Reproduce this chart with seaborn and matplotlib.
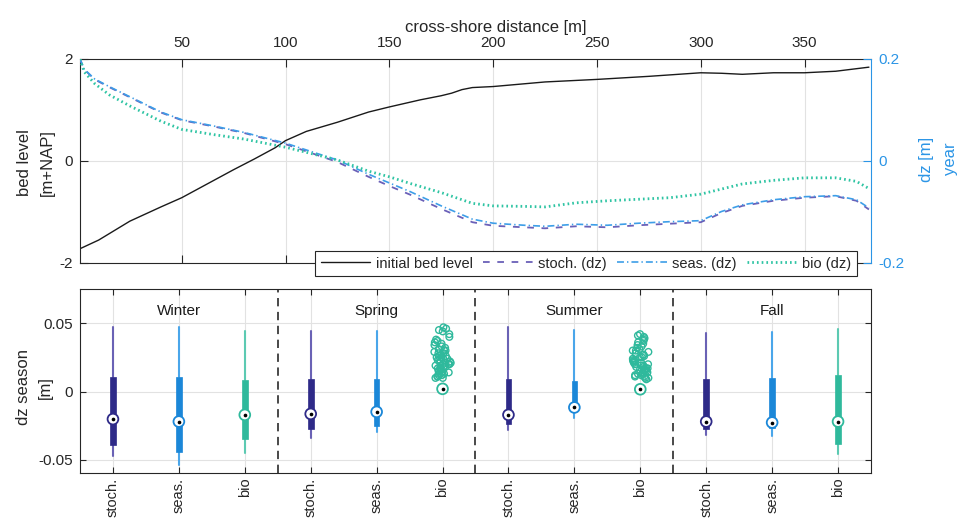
import numpy as np
import matplotlib
matplotlib.use("Agg")
import matplotlib.pyplot as plt
import seaborn as sns

# ---------------- top panel data ----------------
bed_x = [1, 10, 25, 40, 50, 60, 75, 85, 95, 100, 110, 125, 140, 150, 165, 175, 180,
         185, 190, 200, 225, 250, 275, 300, 310, 320, 335, 350, 365, 381]
bed_level = [-1.72, -1.55, -1.18, -0.90, -0.72, -0.50, -0.17, 0.04, 0.26, 0.40, 0.58,
             0.76, 0.96, 1.06, 1.20, 1.28, 1.33, 1.40, 1.44, 1.46, 1.55, 1.60, 1.66,
             1.73, 1.72, 1.70, 1.73, 1.73, 1.76, 1.84]

dz_x = [1, 3, 8, 15, 25, 40, 50, 65, 80, 100, 115, 125, 140, 150, 160, 175, 190, 200,
        215, 225, 240, 255, 270, 285, 300, 310, 320, 335, 350, 365, 375, 381]
dz_stoch = [0.200, 0.180, 0.160, 0.145, 0.125, 0.095, 0.080, 0.068, 0.055, 0.033, 0.012,
            -0.002, -0.031, -0.049, -0.066, -0.094, -0.120, -0.127, -0.130, -0.132,
            -0.128, -0.130, -0.126, -0.123, -0.120, -0.102, -0.088, -0.078, -0.072,
            -0.069, -0.078, -0.095]
dz_seas = [0.200, 0.180, 0.161, 0.146, 0.126, 0.096, 0.081, 0.069, 0.056, 0.035, 0.015,
           0.002, -0.026, -0.043, -0.060, -0.088, -0.114, -0.122, -0.126, -0.128,
           -0.124, -0.126, -0.122, -0.119, -0.117, -0.099, -0.086, -0.076, -0.070,
           -0.068, -0.076, -0.092]
dz_bio = [0.200, 0.175, 0.152, 0.130, 0.108, 0.078, 0.062, 0.052, 0.043, 0.027, 0.012,
          0.002, -0.020, -0.031, -0.044, -0.062, -0.083, -0.088, -0.089, -0.090,
          -0.082, -0.078, -0.075, -0.072, -0.065, -0.055, -0.045, -0.038, -0.033,
          -0.033, -0.040, -0.054]

# ---------------- bottom panel data ----------------
seasons = ["Winter", "Spring", "Summer", "Fall"]
scenarios = ["stoch.", "seas.", "bio"]
whisk_lo = [-0.0474, -0.0535, -0.0450, -0.0336, -0.0297, 0.0012,
            -0.0280, -0.0195, 0.0010, -0.0320, -0.0328, -0.0455]
q1 = [-0.0390, -0.0442, -0.0343, -0.0275, -0.0248, 0.0016,
      -0.0235, -0.0135, 0.0013, -0.0275, -0.0267, -0.0380]
median = [-0.0201, -0.0219, -0.0170, -0.0163, -0.0148, 0.0020,
          -0.0170, -0.0116, 0.0017, -0.0219, -0.0226, -0.0219]
q3 = [0.0110, 0.0110, 0.0085, 0.0090, 0.0090, 0.0024,
      0.0090, 0.0080, 0.0021, 0.0090, 0.0098, 0.0122]
whisk_hi = [0.0475, 0.0475, 0.0444, 0.0444, 0.0440, 0.0028,
            0.0469, 0.0450, 0.0024, 0.0426, 0.0433, 0.0460]
spring_bio_outliers = [0.047, 0.046, 0.045, 0.044, 0.042, 0.040, 0.038, 0.037, 0.036,
                       0.035, 0.034, 0.033, 0.032, 0.031, 0.030, 0.030, 0.029, 0.028,
                       0.028, 0.027, 0.026, 0.026, 0.025, 0.025, 0.024, 0.024, 0.023,
                       0.023, 0.022, 0.022, 0.021, 0.021, 0.020, 0.020, 0.019, 0.019,
                       0.018, 0.018, 0.017, 0.017, 0.016, 0.016, 0.015, 0.015, 0.014,
                       0.014, 0.013, 0.013, 0.012, 0.012, 0.011, 0.011, 0.010, 0.010]
summer_bio_outliers = [0.042, 0.041, 0.040, 0.039, 0.038, 0.037, 0.036, 0.035, 0.034,
                       0.033, 0.032, 0.031, 0.030, 0.030, 0.029, 0.028, 0.027, 0.027,
                       0.026, 0.025, 0.025, 0.024, 0.023, 0.023, 0.022, 0.022, 0.021,
                       0.021, 0.020, 0.020, 0.019, 0.019, 0.018, 0.018, 0.017, 0.017,
                       0.016, 0.016, 0.015, 0.015, 0.014, 0.014, 0.013, 0.013, 0.012,
                       0.012, 0.011, 0.011, 0.010, 0.010, 0.009]

# ---------------- style ----------------
sns.set_theme(style="ticks")
plt.rcParams['font.family'] = ['Liberation Sans', 'DejaVu Sans']
plt.rcParams['axes.unicode_minus'] = False
plt.rcParams['lines.scale_dashes'] = False

SPINE = '#262626'
GRID = '#e2e2e2'
BLUE_AX = '#2b95e6'
c_line = {'stoch': '#6a60b8', 'seas': '#3d9ee8', 'bio': '#2ec4a3'}
c_box = ['#2e2a88', '#1b87d8', '#2fb99c']
c_whisk = ['#6a62b5', '#4aa6ea', '#5ccab2']

fig = plt.figure(figsize=(9.6, 5.18), dpi=100)

# ================= top panel =================
ax = fig.add_axes([80/960, 1-263/518, 791/960, 204/518])
ax2 = ax.twinx()

sns.lineplot(x=bed_x, y=bed_level, ax=ax, color='#1a1a1a', lw=1.0)
h_bed = ax.lines[-1]
sns.lineplot(x=dz_x, y=dz_stoch, ax=ax2, color=c_line['stoch'], lw=1.3,
             linestyle=(0, (4.8, 5.5)))
h_st = ax2.lines[-1]
sns.lineplot(x=dz_x, y=dz_seas, ax=ax2, color=c_line['seas'], lw=1.2,
             linestyle=(0, (5, 2.2, 1, 2.2)))
h_se = ax2.lines[-1]
sns.lineplot(x=dz_x, y=dz_bio, ax=ax2, color=c_line['bio'], lw=2.0,
             linestyle=(0, (1.2, 2.2)))
h_bi = ax2.lines[-1]

ax.set_xlim(1, 382)
ax.set_ylim(-2, 2)
ax2.set_ylim(-0.2, 0.2)
ax.set_xticks([50, 100, 150, 200, 250, 300, 350])
ax.set_yticks([-2, 0, 2])
ax.set_yticklabels(['-2', '0', '2'])
ax2.set_yticks([-0.2, 0, 0.2])
ax2.set_yticklabels(['-0.2', '0', '0.2'])
ax.grid(True, color=GRID, lw=0.8)
ax.set_axisbelow(True)
ax2.grid(False)

ax.tick_params(axis='x', which='both', top=True, bottom=True, labeltop=True,
               labelbottom=False, direction='in', length=6, width=0.8,
               color=SPINE, labelsize=11, pad=6.5)
ax.tick_params(axis='y', left=True, right=False, direction='in', length=6,
               width=0.8, color=SPINE, labelsize=11, pad=5)
ax2.tick_params(axis='y', right=True, direction='in', length=6, width=0.8,
                colors=BLUE_AX, labelsize=11, pad=5)
for s in ['left', 'top', 'bottom']:
    ax.spines[s].set_color(SPINE)
    ax.spines[s].set_linewidth(0.8)
    ax2.spines[s].set_visible(False)
ax.spines['right'].set_visible(False)
ax2.spines['right'].set_color(BLUE_AX)
ax2.spines['right'].set_linewidth(0.8)

ax.xaxis.set_label_position('top')
ax.set_xlabel('cross-shore distance [m]', fontsize=12)
ax.xaxis.set_label_coords(0.525, 1.13)
ax.xaxis.label.set_va('baseline')
ax.set_ylabel('bed level\n[m+NAP]', fontsize=12, linespacing=1.65)
ax.yaxis.set_label_coords(-0.032, 0.49)
ax2.set_ylabel('dz [m]\nyear', fontsize=12, color=BLUE_AX, linespacing=1.75)
ax2.yaxis.set_label_coords(1.0607, 0.51)

leg = ax2.legend([h_bed, h_st, h_se, h_bi],
                 ['initial bed level', 'stoch. (dz)', 'seas. (dz)', 'bio (dz)'],
                 loc='upper right', bbox_to_anchor=(0.982, 0.059), ncol=4,
                 frameon=True, fancybox=False, framealpha=1, edgecolor=SPINE,
                 fontsize=10.5, handlelength=3.4, handletextpad=0.38,
                 columnspacing=0.7, borderpad=0.38, borderaxespad=0)
leg.get_frame().set_linewidth(0.8)

# ================= bottom panel =================
ax3 = fig.add_axes([80/960, 1-472.7/518, 791/960, 183.7/518])
n = len(median)
pos = np.arange(1, n + 1)
stats = [dict(whislo=whisk_lo[i], q1=q1[i], med=median[i], q3=q3[i],
              whishi=whisk_hi[i], fliers=[]) for i in range(n)]
bp = ax3.bxp(stats, positions=pos, widths=0.085, patch_artist=True,
             showcaps=False, showfliers=False, manage_ticks=False,
             whiskerprops=dict(lw=1.5), medianprops=dict(lw=0),
             boxprops=dict(lw=0.5))
for i in range(n):
    k = i % len(scenarios)
    bp['boxes'][i].set_facecolor(c_box[k])
    bp['boxes'][i].set_edgecolor(c_box[k])
    bp['boxes'][i].set_zorder(3)
    for w in bp['whiskers'][2*i:2*i+2]:
        w.set_color(c_whisk[k])
        w.set_zorder(2.5)

np.random.seed(3)
teal = c_box[2]
for season_idx, outl in [(1, spring_bio_outliers), (2, summer_bio_outliers)]:
    xpos = np.full(len(outl), float(pos[season_idx*3 + 2]))
    sns.stripplot(x=xpos, y=outl, ax=ax3, native_scale=True, orient='x',
                  jitter=0.13, size=4.8, color=teal, linewidth=1.0, zorder=3)
    coll = ax3.collections[-1]
    coll.set_facecolor('none')
    coll.set_edgecolor(teal)

edge_cols = [c_box[i % 3] for i in range(n)]
sns.scatterplot(x=pos, y=median, ax=ax3, s=60, color='white', edgecolor=edge_cols,
                linewidth=1.3, zorder=5, legend=False)
sns.scatterplot(x=pos, y=median, ax=ax3, s=7, color='black', edgecolor='black',
                linewidth=0, zorder=6, legend=False)

for j in range(1, len(seasons)):
    ax3.axvline(j*len(scenarios) + 0.5, color='#3a3a3a', lw=1.3,
                linestyle=(0, (6, 4)), zorder=2)
for j, sname in enumerate(seasons):
    ax3.text(j*len(scenarios) + 2, 0.0588, sname, ha='center', va='center',
             fontsize=11, color='#1a1a1a')

ax3.set_xlim(0.5, n + 0.5)
ax3.set_ylim(-0.0593, 0.075)
ax3.set_xticks(pos)
ax3.set_xticklabels(scenarios * len(seasons), rotation=90)
ax3.set_yticks([-0.05, 0, 0.05])
ax3.set_yticklabels(['-0.05', '0', '0.05'])
ax3.set_xlabel('')
ax3.grid(True, color=GRID, lw=0.8)
ax3.set_axisbelow(True)
ax3.tick_params(axis='both', which='both', top=True, right=True, bottom=True,
                left=True, direction='in', length=4.5, width=0.8, color=SPINE,
                labelsize=11, pad=5)
ax3.tick_params(axis='x', labelsize=10.5, pad=3.5)
for s in ax3.spines.values():
    s.set_color(SPINE)
    s.set_linewidth(0.8)
ax3.set_ylabel('dz season\n[m]', fontsize=12, linespacing=1.6)
ax3.yaxis.set_label_coords(-0.034, 0.466)

fig.savefig('out.png', dpi=100)
